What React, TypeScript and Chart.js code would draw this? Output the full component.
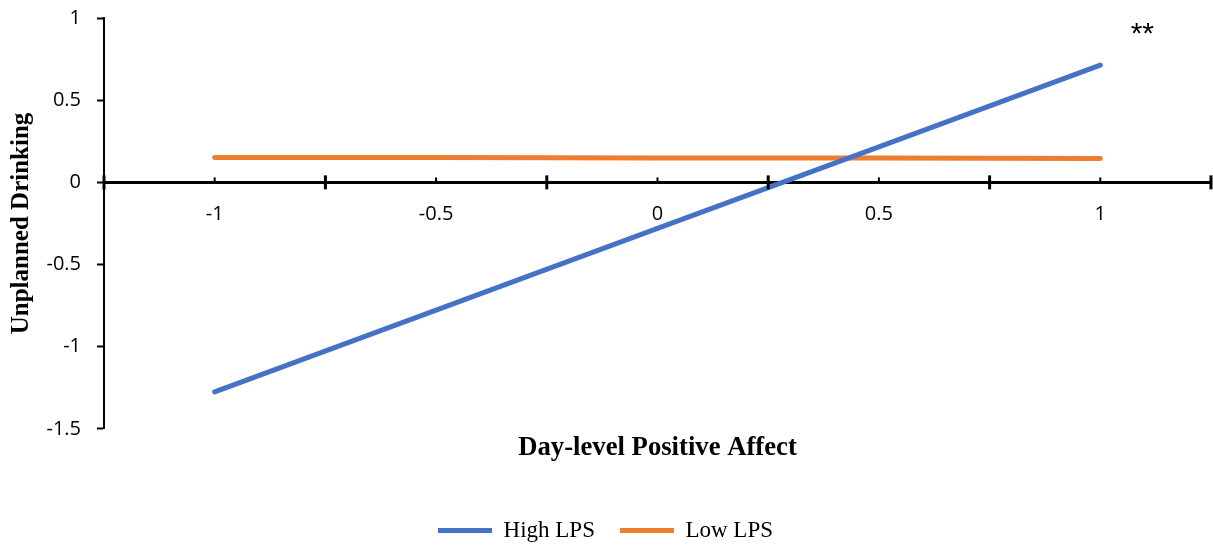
import React, { useEffect, useRef } from 'react';
import { Chart, registerables } from 'chart.js';

Chart.register(...registerables);

// ---- data ----
const categories = ['-1', '-0.5', '0', '0.5', '1'];
const highLPS = [-1.274, -0.777, -0.28, 0.216, 0.713];
const lowLPS = [0.152, 0.151, 0.149, 0.148, 0.146];
const seriesNames = ['High LPS', 'Low LPS'];
const yMin = -1.5;
const yMax = 1;
const yStep = 0.5;
const annotationText = '**';
const xTitle = 'Day-level Positive Affect';
const yTitle = 'Unplanned Drinking';

const axisTicksPlugin = {
  id: 'axisTicks',
  afterDraw(chart: any) {
    const xs = chart.scales.x;
    const ys = chart.scales.y;
    const ctx = chart.ctx;
    const y0 = ys.getPixelForValue(0);
    ctx.save();
    ctx.strokeStyle = '#000';
    ctx.lineWidth = 3;
    for (let i = 0; i <= categories.length; i++) {
      const px = xs.getPixelForValue(i - 0.5);
      ctx.beginPath();
      ctx.moveTo(px, y0 - 7);
      ctx.lineTo(px, y0 + 7);
      ctx.stroke();
    }
    ctx.lineWidth = 2;
    for (let i = 0; i < categories.length; i++) {
      const px = xs.getPixelForValue(i);
      ctx.beginPath();
      ctx.moveTo(px, y0 - 5);
      ctx.lineTo(px, y0);
      ctx.stroke();
    }
    ctx.fillStyle = '#000';
    ctx.font = '30px "Liberation Sans"';
    ctx.textAlign = 'center';
    ctx.textBaseline = 'middle';
    ctx.fillText(
      annotationText,
      xs.getPixelForValue(categories.length - 1) + 42,
      ys.getPixelForValue(0.9)
    );
    ctx.restore();
  },
};

export default function App() {
  const ref = useRef<HTMLCanvasElement>(null);
  useEffect(() => {
    const chart = new Chart(ref.current as HTMLCanvasElement, {
      type: 'line',
      data: {
        labels: categories,
        datasets: [
          {
            label: seriesNames[0],
            data: highLPS,
            borderColor: '#4472C4',
            backgroundColor: '#4472C4',
            borderWidth: 5,
            pointRadius: 0,
            borderCapStyle: 'round',
            tension: 0,
          },
          {
            label: seriesNames[1],
            data: lowLPS,
            borderColor: '#ED7D31',
            backgroundColor: '#ED7D31',
            borderWidth: 5,
            pointRadius: 0,
            borderCapStyle: 'round',
            tension: 0,
          },
        ],
      },
      options: {
        responsive: false,
        animation: false,
        layout: { padding: { top: 18, right: 2, left: 0, bottom: 0 } },
        scales: {
          x: {
            type: 'category',
            offset: true,
            position: { y: 0 },
            grid: { display: false, drawTicks: false },
            border: { display: true, color: '#000', width: 3 },
            ticks: {
              color: '#000',
              font: { family: 'Open Sans', size: 20 },
              padding: 20,
              maxRotation: 0,
              autoSkip: false,
            },
          },
          y: {
            min: yMin,
            max: yMax,
            ticks: {
              stepSize: yStep,
              color: '#000',
              font: { family: 'Open Sans', size: 20 },
              padding: 16,
              callback: (v: any) => String(v),
            },
            grid: {
              drawOnChartArea: false,
              drawTicks: true,
              tickLength: 7,
              tickWidth: 2,
              tickColor: '#000',
              color: '#000',
            },
            border: { color: '#000', width: 2 },
            title: {
              display: true,
              text: yTitle,
              color: '#000',
              font: { family: 'Liberation Serif', size: 25, weight: 'bold' },
              padding: { top: 7, bottom: 0 },
            },
            afterFit: (s: any) => {
              s.width = 104;
              s.paddingTop = 0;
            },
          },
        },
        plugins: {
          legend: {
            position: 'bottom',
            weight: 3000,
            labels: {
              usePointStyle: true,
              pointStyle: 'line',
              pointStyleWidth: 54,
              color: '#000',
              font: { family: 'Liberation Serif', size: 23 },
              padding: 25,
            },
          },
          title: {
            display: true,
            text: xTitle,
            position: 'bottom',
            fullSize: false,
            color: '#000',
            font: { family: 'Liberation Serif', size: 26.7, weight: 'bold' },
            padding: { top: 3, bottom: 30 },
          },
          tooltip: { enabled: false },
        },
      } as any,
      plugins: [axisTicksPlugin],
    });
    return () => chart.destroy();
  }, []);
  return (
    <div
      style={{
        position: 'fixed',
        left: 0,
        top: 0,
        width: 1213,
        height: 546,
        overflow: 'hidden',
        background: '#fff',
      }}
    >
      <canvas ref={ref} width={1213} height={552} style={{ display: 'block' }} />
    </div>
  );
}
